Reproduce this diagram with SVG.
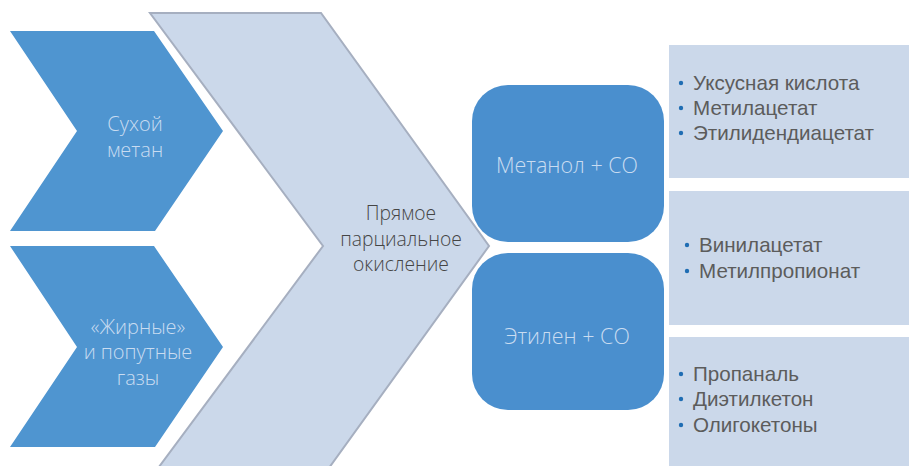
<svg xmlns="http://www.w3.org/2000/svg" width="909" height="466" viewBox="0 0 909 466">
<style>
.src{fill:#4f95d0}
.big{fill:#cbd8ea;stroke:#a6afc0;stroke-width:2}
.rbox{fill:#4a8fce}
.pbox{fill:#cbd8ea}
.lt{font-family:"Open Sans","Liberation Sans",sans-serif;font-weight:300;font-size:20px;fill:#c9dcf1;text-anchor:middle}
.lb{font-size:21.5px}
.dk{font-family:"Open Sans","Liberation Sans",sans-serif;font-weight:300;font-size:19.3px;fill:#454545;text-anchor:middle}
.it{font-family:"Liberation Sans",Arial,sans-serif;font-size:20.6px;fill:#5c5c5c}
.bul{fill:#1f6db3}
</style>
<rect width="909" height="466" fill="#ffffff"/>
<g id="big-chevron">
<polygon class="big" points="150,13 321,13 489,246 321,479 150,479 323,246"/>
<text class="dk" x="401" y="220">Прямое</text>
<text class="dk" x="401" y="246">парциальное</text>
<text class="dk" x="401" y="271">окисление</text>
</g>
<g id="dry-methane">
<polygon class="src" points="10,31 154,31 223,131 155,231 10,231 77,131"/>
<text class="lt" x="135" y="131">Сухой</text>
<text class="lt" x="135" y="157">метан</text>
</g>
<g id="fat-gases">
<polygon class="src" points="10,246 154,246 223,347 155,447 10,447 77,347"/>
<text class="lt" x="138" y="334">«Жирные»</text>
<text class="lt" x="138" y="359">и попутные</text>
<text class="lt" x="138" y="385">газы</text>
</g>
<g id="methanol-co">
<rect class="rbox" x="472" y="85" width="192" height="157" rx="36"/>
<text class="lt lb" x="567" y="173">Метанол + СО</text>
</g>
<g id="ethylene-co">
<rect class="rbox" x="472" y="253" width="192" height="157" rx="36"/>
<text class="lt lb" x="567" y="344">Этилен + СО</text>
</g>
<g id="products-1">
<rect class="pbox" x="669" y="45" width="240" height="133"/>
<circle class="bul" cx="681" cy="83" r="2.2"/>
<circle class="bul" cx="681" cy="108" r="2.2"/>
<circle class="bul" cx="681" cy="133" r="2.2"/>
<text class="it" x="693" y="90">Уксусная кислота</text>
<text class="it" x="693" y="115">Метилацетат</text>
<text class="it" x="693" y="140">Этилидендиацетат</text>
</g>
<g id="products-2">
<rect class="pbox" x="669" y="191" width="240" height="134"/>
<circle class="bul" cx="687" cy="245" r="2.2"/>
<circle class="bul" cx="687" cy="271" r="2.2"/>
<text class="it" x="699" y="252">Винилацетат</text>
<text class="it" x="699" y="278">Метилпропионат</text>
</g>
<g id="products-3">
<rect class="pbox" x="669" y="337" width="240" height="129"/>
<circle class="bul" cx="681" cy="374" r="2.2"/>
<circle class="bul" cx="681" cy="399" r="2.2"/>
<circle class="bul" cx="681" cy="425" r="2.2"/>
<text class="it" x="693" y="381">Пропаналь</text>
<text class="it" x="693" y="406">Диэтилкетон</text>
<text class="it" x="693" y="432">Олигокетоны</text>
</g>
<g id="connectors"></g>
</svg>
